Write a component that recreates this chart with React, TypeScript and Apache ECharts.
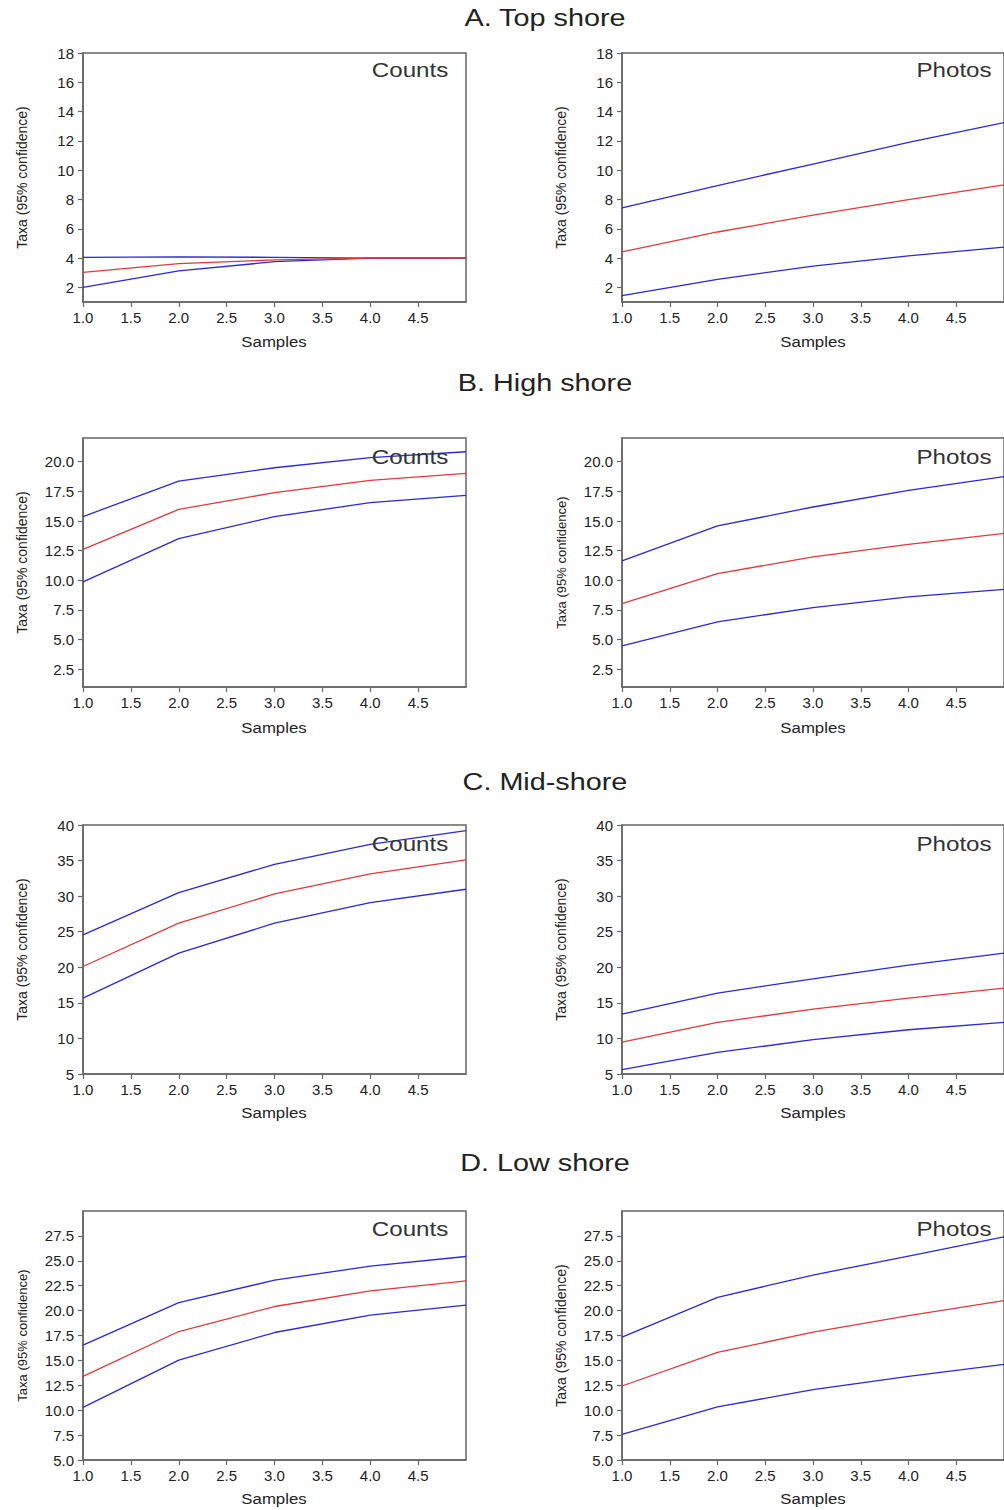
import React, { useEffect, useRef } from "react";
import * as echarts from "echarts";

// ---------- data ----------
const SAMPLES = [1, 2, 3, 4, 5];
const X_TICKS = [1, 1.5, 2, 2.5, 3, 3.5, 4, 4.5];

const ROW_TITLES = ["A. Top shore", "B. High shore", "C. Mid-shore", "D. Low shore"];
const METHODS = ["Counts", "Photos"];
const Y_AXIS_NAME = "Taxa (95% confidence)";
const X_AXIS_NAME = "Samples";

const Y_MIN = [1, 1, 5, 5];
const Y_MAX = [18, 22, 40, 30];
const Y_TICKS_A = [2, 4, 6, 8, 10, 12, 14, 16, 18];
const Y_TICKS_B = [2.5, 5, 7.5, 10, 12.5, 15, 17.5, 20];
const Y_TICKS_C = [5, 10, 15, 20, 25, 30, 35, 40];
const Y_TICKS_D = [5, 7.5, 10, 12.5, 15, 17.5, 20, 22.5, 25, 27.5];
const Y_DECIMALS = [0, 1, 0, 1];

// A. Top shore
const TOP_COUNTS_UPPER = [4.05, 4.08, 4.05, 4.0, 4.0];
const TOP_COUNTS_MEAN = [3.02, 3.62, 3.87, 4.0, 4.0];
const TOP_COUNTS_LOWER = [2.0, 3.12, 3.75, 4.0, 4.0];
const TOP_PHOTOS_UPPER = [7.42, 8.95, 10.42, 11.9, 13.25];
const TOP_PHOTOS_MEAN = [4.42, 5.78, 6.93, 7.99, 9.0];
const TOP_PHOTOS_LOWER = [1.43, 2.55, 3.45, 4.15, 4.75];

// B. High shore
const HIGH_COUNTS_UPPER = [15.37, 18.37, 19.49, 20.34, 20.84];
const HIGH_COUNTS_MEAN = [12.61, 15.98, 17.39, 18.43, 19.02];
const HIGH_COUNTS_LOWER = [9.86, 13.51, 15.37, 16.55, 17.16];
const HIGH_PHOTOS_UPPER = [11.63, 14.58, 16.18, 17.58, 18.74];
const HIGH_PHOTOS_MEAN = [8.03, 10.56, 11.97, 13.03, 13.96];
const HIGH_PHOTOS_LOWER = [4.47, 6.49, 7.7, 8.6, 9.24];

// C. Mid-shore
const MID_COUNTS_UPPER = [24.56, 30.5, 34.48, 37.29, 39.2];
const MID_COUNTS_MEAN = [20.11, 26.2, 30.31, 33.12, 35.09];
const MID_COUNTS_LOWER = [15.67, 21.98, 26.2, 29.1, 30.97];
const MID_PHOTOS_UPPER = [13.42, 16.37, 18.38, 20.3, 21.98];
const MID_PHOTOS_MEAN = [9.49, 12.25, 14.12, 15.67, 17.07];
const MID_PHOTOS_LOWER = [5.61, 8.04, 9.82, 11.22, 12.25];

// D. Low shore
const LOW_COUNTS_UPPER = [16.53, 20.81, 23.05, 24.46, 25.43];
const LOW_COUNTS_MEAN = [13.39, 17.9, 20.41, 21.98, 22.99];
const LOW_COUNTS_LOWER = [10.28, 15.03, 17.8, 19.54, 20.55];
const LOW_PHOTOS_UPPER = [17.33, 21.33, 23.57, 25.47, 27.4];
const LOW_PHOTOS_MEAN = [12.43, 15.8, 17.83, 19.5, 21.0];
const LOW_PHOTOS_LOWER = [7.57, 10.33, 12.07, 13.4, 14.6];

const PANEL_SERIES = [
  [
    [TOP_COUNTS_UPPER, TOP_COUNTS_MEAN, TOP_COUNTS_LOWER],
    [TOP_PHOTOS_UPPER, TOP_PHOTOS_MEAN, TOP_PHOTOS_LOWER],
  ],
  [
    [HIGH_COUNTS_UPPER, HIGH_COUNTS_MEAN, HIGH_COUNTS_LOWER],
    [HIGH_PHOTOS_UPPER, HIGH_PHOTOS_MEAN, HIGH_PHOTOS_LOWER],
  ],
  [
    [MID_COUNTS_UPPER, MID_COUNTS_MEAN, MID_COUNTS_LOWER],
    [MID_PHOTOS_UPPER, MID_PHOTOS_MEAN, MID_PHOTOS_LOWER],
  ],
  [
    [LOW_COUNTS_UPPER, LOW_COUNTS_MEAN, LOW_COUNTS_LOWER],
    [LOW_PHOTOS_UPPER, LOW_PHOTOS_MEAN, LOW_PHOTOS_LOWER],
  ],
];
const Y_TICKS = [Y_TICKS_A, Y_TICKS_B, Y_TICKS_C, Y_TICKS_D];

// ---------- layout ----------
const W = 1004;
const H = 1510;
const ROW_TOP = [53, 438, 825, 1211];
const GRID_H = 249;
const COL_LEFT = [83, 622];
const GRID_W = [383, 382];
const TITLE_Y = [18, 383, 782, 1163];
const METHOD_Y = [70, 457, 844, 1229];
const METHOD_X = [410, 954];
const SAMPLES_Y = [342, 728, 1113, 1499];
const SAMPLES_X = [274, 813];
const TAXA_X = [22, 561];
const TAXA_SIZE = [
  [14, 14],
  [14, 13],
  [14, 14],
  [13, 14],
];

const BLUE = "#2a2ad2";
const RED = "#e03a3a";
const FRAME = "#666666";
const FONT = '"Liberation Sans", Arial, sans-serif';

function buildOption() {
  const grid: any[] = [];
  const xAxis: any[] = [];
  const yAxis: any[] = [];
  const series: any[] = [];
  const graphic: any[] = [];

  for (let r = 0; r < 4; r++) {
    graphic.push({
      type: "text",
      x: 545,
      y: TITLE_Y[r],
      scaleX: 1.2,
      style: {
        text: ROW_TITLES[r],
        font: `24px ${FONT}`,
        fill: "#222",
        align: "center",
        verticalAlign: "middle",
      },
    });
    for (let c = 0; c < 2; c++) {
      const idx = grid.length;
      grid.push({
        left: COL_LEFT[c],
        top: ROW_TOP[r],
        width: GRID_W[c],
        height: GRID_H,
        show: true,
        borderColor: FRAME,
        borderWidth: 1.5,
        backgroundColor: "transparent",
      });
      xAxis.push({
        type: "value",
        gridIndex: idx,
        min: 1,
        max: 5,
        interval: 0.5,
        axisLine: { show: true, lineStyle: { color: FRAME, width: 1.5 } },
        axisTick: {
          show: true,
          length: 5,
          lineStyle: { color: FRAME, width: 1.2 },
          customValues: X_TICKS,
        },
        axisLabel: {
          customValues: X_TICKS,
          margin: 8,
          color: "#222",
          fontSize: 15,
          fontFamily: FONT,
          formatter: (v: number) => v.toFixed(1),
        },
        splitLine: { show: false },
      });
      yAxis.push({
        type: "value",
        gridIndex: idx,
        min: Y_MIN[r],
        max: Y_MAX[r],
        axisLine: { show: true, lineStyle: { color: FRAME, width: 1.5 } },
        axisTick: {
          show: true,
          length: 5,
          lineStyle: { color: FRAME, width: 1.2 },
          customValues: Y_TICKS[r],
        },
        axisLabel: {
          customValues: Y_TICKS[r],
          margin: 9,
          color: "#222",
          fontSize: 15,
          fontFamily: FONT,
          formatter: (v: number) => v.toFixed(Y_DECIMALS[r]),
        },
        splitLine: { show: false },
      });
      const [upper, mean, lower] = PANEL_SERIES[r][c];
      const mk = (vals: number[], color: string, name: string) => ({
        type: "line",
        name,
        xAxisIndex: idx,
        yAxisIndex: idx,
        data: SAMPLES.map((s, i) => [s, vals[i]]),
        symbol: "none",
        lineStyle: { color, width: 1.3 },
        itemStyle: { color },
        z: 3,
      });
      series.push(mk(upper, BLUE, "upper"));
      series.push(mk(lower, BLUE, "lower"));
      series.push(mk(mean, RED, "mean"));

      graphic.push({
        type: "text",
        x: METHOD_X[c],
        y: METHOD_Y[r],
        scaleX: 1.15,
        z: 100,
        style: {
          text: METHODS[c],
          font: `21px ${FONT}`,
          fill: "#333",
          align: "center",
          verticalAlign: "middle",
        },
      });
      graphic.push({
        type: "text",
        x: SAMPLES_X[c],
        y: SAMPLES_Y[r],
        scaleX: 1.12,
        style: {
          text: X_AXIS_NAME,
          font: `15px ${FONT}`,
          fill: "#222",
          align: "center",
          verticalAlign: "middle",
        },
      });
      graphic.push({
        type: "text",
        x: TAXA_X[c],
        y: ROW_TOP[r] + GRID_H / 2,
        rotation: Math.PI / 2,
        style: {
          text: Y_AXIS_NAME,
          font: `${TAXA_SIZE[r][c]}px ${FONT}`,
          fill: "#222",
          align: "center",
          verticalAlign: "middle",
        },
      });
    }
  }

  return {
    animation: false,
    backgroundColor: "#ffffff",
    grid,
    xAxis,
    yAxis,
    series,
    graphic,
  };
}

export default function App() {
  const ref = useRef<HTMLDivElement>(null);
  useEffect(() => {
    if (!ref.current) return;
    const chart = echarts.init(ref.current, null, { renderer: "svg" });
    chart.setOption(buildOption());
    return () => chart.dispose();
  }, []);
  return (
    <div
      ref={ref}
      style={{ position: "absolute", left: 0, top: 0, width: W, height: H, background: "#fff" }}
    />
  );
}
